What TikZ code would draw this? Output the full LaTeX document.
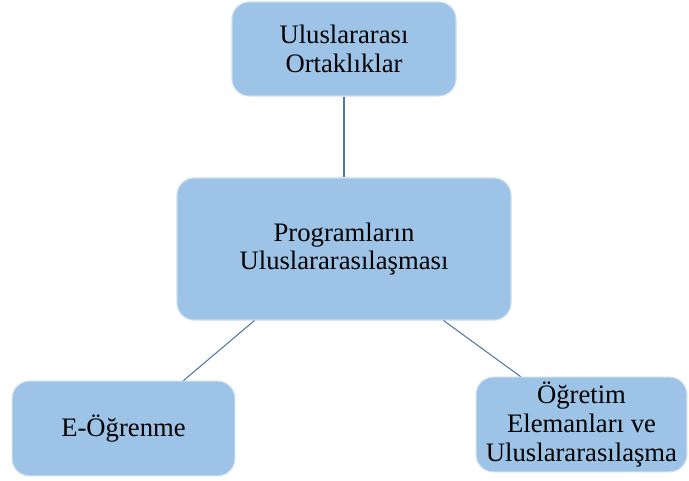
\documentclass[tikz,border=0pt]{standalone}
\usepackage{fontspec}
\setmainfont{Liberation Serif}
\definecolor{boxblue}{HTML}{9DC3E6}
\definecolor{linkblue}{HTML}{4F7AA8}
\tikzset{
	konu/.style={rounded corners=13pt, fill=boxblue, draw=boxblue!55!white, line width=0.8pt,
		align=center, inner sep=0pt, font=\fontsize{20}{21.5}\selectfont},
	bag/.style={draw=linkblue, line width=0.8pt}
}
\begin{document}
\begin{tikzpicture}[x=0.75pt, y=-0.75pt]
			\useasboundingbox (0,0) rectangle (689,481);
			\node[konu, minimum width=168pt, minimum height=70.5pt] (ortak) at (344,49) {Uluslararası\\Ortaklıklar};
			\node[konu, minimum width=250.5pt, minimum height=106.5pt] (prog) at (344,249) {Programların\\Uluslararasılaşması};
			\node[konu, minimum width=167pt, minimum height=71pt] (eog) at (123.5,428.5) {E-Öğrenme};
			\node[konu, minimum width=158pt, minimum height=71pt] (ogr) at (581.5,424.5) {Öğretim\\Elemanları ve\\Uluslararasılaşma};
			% baglantilar
			\draw[bag] (ortak.south) -- (prog.north);
			\draw[bag] ([xshift=58.5pt]prog.south west) -- ([xshift=-39pt]eog.north east);
			\draw[bag] ([xshift=-51pt]prog.south east) -- ([xshift=33.75pt]ogr.north west);
		\end{tikzpicture}
\end{document}
